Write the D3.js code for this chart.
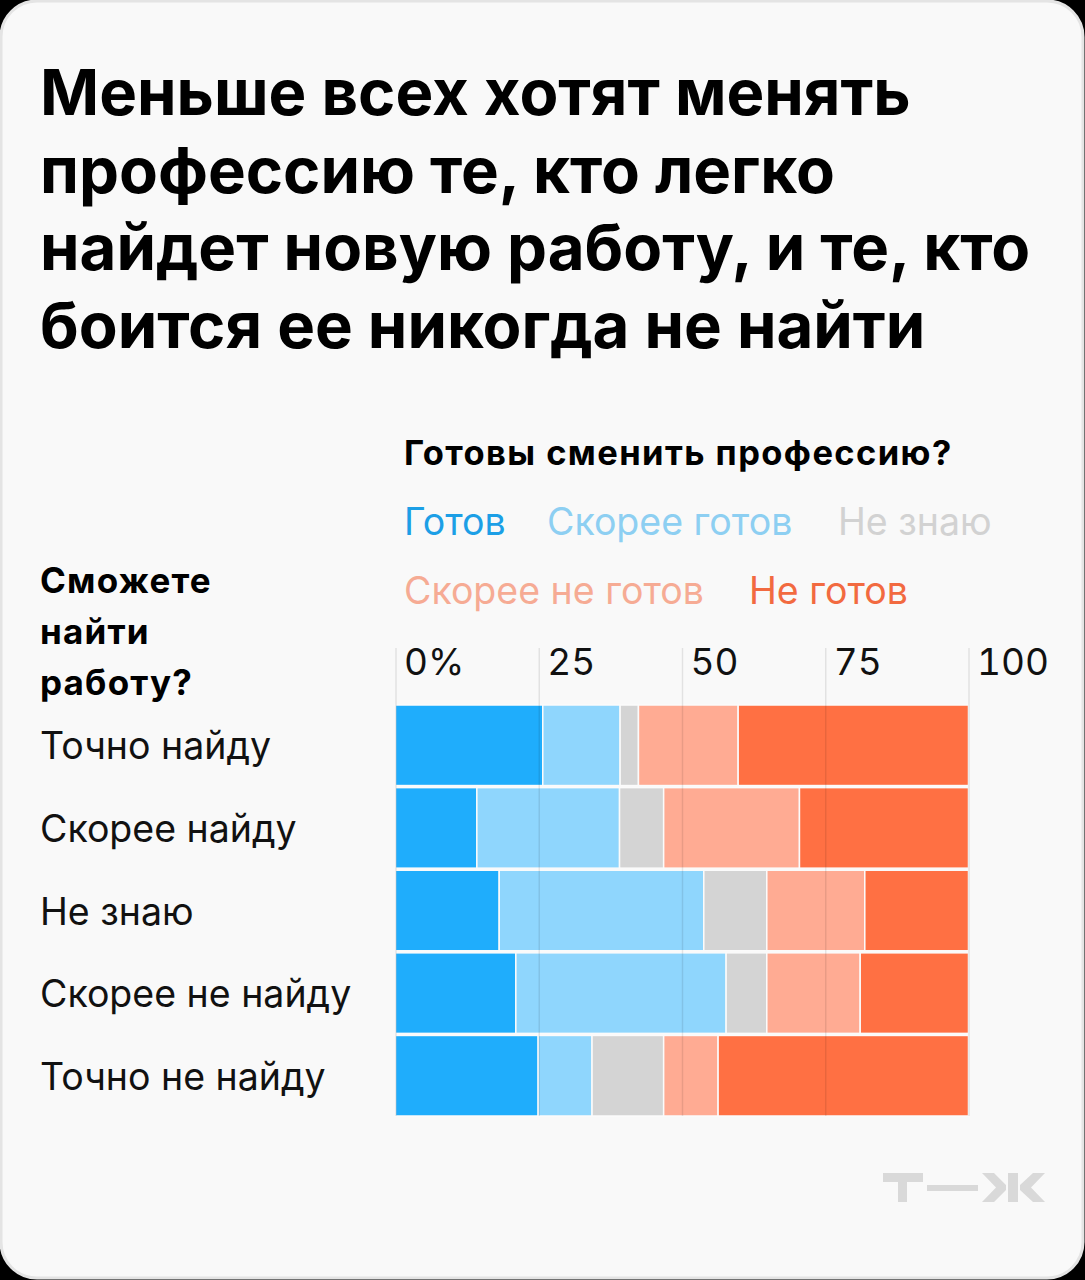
<!DOCTYPE html>
<html>
<head>
<meta charset="utf-8">
<script src="https://cdn.jsdelivr.net/npm/d3@7"></script>
<style>
  html, body { margin: 0; padding: 0; background: #000; }
  svg { display: block; }
  text { font-family: Inter, Roboto, "Noto Sans", sans-serif; }
</style>
</head>
<body>
<div id="chart"></div>
<script>
// data (% of respondents)
var rowLabels = ["Точно найду", "Скорее найду", "Не знаю", "Скорее не найду", "Точно не найду"];
var seriesNames = ["Готов", "Скорее готов", "Не знаю", "Скорее не готов", "Не готов"];
var ready = [25.7, 14.2, 18.1, 21.0, 24.9];
var ratherReady = [13.5, 24.9, 35.7, 36.7, 9.4];
var dontKnow = [3.2, 7.7, 11.0, 7.1, 12.5];
var ratherNotReady = [17.4, 23.7, 17.1, 16.3, 9.5];
var notReady = [40.2, 29.5, 18.1, 18.9, 43.7];
var tickValues = [0, 25, 50, 75, 100];
var tickLabels = ["0%", "25", "50", "75", "100"];

var titleLines = [
  "Меньше всех хотят менять",
  "профессию те, кто легко",
  "найдет новую работу, и те, кто",
  "боится ее никогда не найти"
];
var rowHeading = ["Сможете", "найти", "работу?"];

var barColors = ["#1fadfc", "#8fd6fd", "#d4d4d4", "#ffab93", "#ff7043"];
var legendColors = ["#1c9fe6", "#8dcff2", "#d2d2d2", "#f6ab94", "#f26a40"];

var svgWidth = 1085;
var svgHeight = 1280;

var svg = d3
  .select("#chart")
  .append("svg")
  .attr("width", svgWidth)
  .attr("height", svgHeight);

// card background
svg
  .append("rect")
  .attr("x", 1)
  .attr("y", 1)
  .attr("width", svgWidth - 3)
  .attr("height", svgHeight - 3)
  .attr("rx", 36)
  .attr("fill", "#f9f9f9")
  .attr("stroke", "#e4e4e4")
  .attr("stroke-width", 3);

// title
svg
  .append("g")
  .selectAll("text")
  .data(titleLines)
  .enter()
  .append("text")
  .attr("x", 40)
  .attr("y", (d, i) => 115 + i * 77.5)
  .attr("font-size", 63.5)
  .attr("font-weight", 700)
  .attr("fill", "#000")
  .text((d) => d);

// stack the series
var table = rowLabels.map(function (label, i) {
  return {
    label: label,
    "Готов": ready[i],
    "Скорее готов": ratherReady[i],
    "Не знаю": dontKnow[i],
    "Скорее не готов": ratherNotReady[i],
    "Не готов": notReady[i],
  };
});
var stacked = d3.stack().keys(seriesNames)(table);

// scales
var xScale = d3.scaleLinear().domain([0, 100]).range([395.5, 968.5]);
var yScale = d3
  .scaleBand()
  .domain(rowLabels)
  .range([705, 1116])
  .paddingInner(0.025);
var colorScale = d3.scaleOrdinal().domain(seriesNames).range(barColors);

// chart subtitle
svg
  .append("text")
  .attr("x", 404)
  .attr("y", 465)
  .attr("font-size", 34.5)
  .attr("font-weight", 700)
  .attr("letter-spacing", 1.4)
  .attr("fill", "#000")
  .text("Готовы сменить профессию?");

// legend
var legendPos = [
  [404, 535],
  [547, 535],
  [838, 535],
  [404, 604],
  [749, 604],
];
svg
  .append("g")
  .selectAll("text")
  .data(seriesNames)
  .enter()
  .append("text")
  .attr("x", (d, i) => legendPos[i][0])
  .attr("y", (d, i) => legendPos[i][1])
  .attr("font-size", 37.5)
  .attr("font-weight", 400)
  .attr("fill", (d, i) => legendColors[i])
  .text((d) => d);

// left heading
svg
  .append("g")
  .selectAll("text")
  .data(rowHeading)
  .enter()
  .append("text")
  .attr("x", 40)
  .attr("y", (d, i) => 593 + i * 51)
  .attr("font-size", 35)
  .attr("font-weight", 700)
  .attr("letter-spacing", 1.2)
  .attr("fill", "#000")
  .text((d) => d);

// row labels
svg
  .append("g")
  .selectAll("text")
  .data(rowLabels)
  .enter()
  .append("text")
  .attr("x", 40)
  .attr("y", (d) => yScale(d) + yScale.bandwidth() / 2 + 14)
  .attr("font-size", 37.5)
  .attr("font-weight", 400)
  .attr("fill", "#111")
  .text((d) => d);

// bars
svg
  .append("g")
  .selectAll("g")
  .data(stacked)
  .enter()
  .append("g")
  .attr("fill", (d) => colorScale(d.key))
  .selectAll("rect")
  .data((d) => d)
  .enter()
  .append("rect")
  .attr("x", (d) => xScale(d[0]))
  .attr("y", (d) => yScale(d.data.label))
  .attr("width", (d) => xScale(d[1]) - xScale(d[0]))
  .attr("height", yScale.bandwidth())
  .attr("stroke", "#fbfbfb")
  .attr("stroke-width", 1.5);

// axis on top: gridlines drawn over the bars
var topAxis = d3
  .axisTop(xScale)
  .tickValues(tickValues)
  .tickSize(-(1116 - 648))
  .tickFormat((d, i) => tickLabels[i]);

var xAxis = svg
  .append("g")
  .attr("transform", "translate(0, 648)")
  .call(topAxis);

xAxis.select(".domain").remove();
xAxis
  .selectAll(".tick line")
  .attr("stroke", "#000")
  .attr("stroke-opacity", 0.09)
  .attr("stroke-width", 1.5);
xAxis
  .selectAll(".tick text")
  .attr("text-anchor", "start")
  .attr("x", 8)
  .attr("y", 27)
  .attr("font-size", 37)
  .attr("font-family", "Inter, Roboto, sans-serif")
  .style("font-variant-numeric", "tabular-nums")
  .attr("fill", "#111");

// logo
var logo = svg.append("g").attr("fill", "#d9d9d9");
logo.append("rect").attr("x", 883).attr("y", 1173).attr("width", 40).attr("height", 9);
logo.append("rect").attr("x", 898).attr("y", 1173).attr("width", 9).attr("height", 29);
logo.append("rect").attr("x", 927).attr("y", 1185).attr("width", 51).attr("height", 6);
logo.append("rect").attr("x", 1008).attr("y", 1173).attr("width", 10).attr("height", 29);
logo
  .append("path")
  .attr("d", "M982,1173 L994,1173 L1006,1185 L1006,1190 L994,1202 L982,1202 L996,1187.5 Z");
logo
  .append("path")
  .attr("d", "M1045,1173 L1033,1173 L1020,1185 L1020,1190 L1033,1202 L1045,1202 L1031,1187.5 Z");
</script>
</body>
</html>
